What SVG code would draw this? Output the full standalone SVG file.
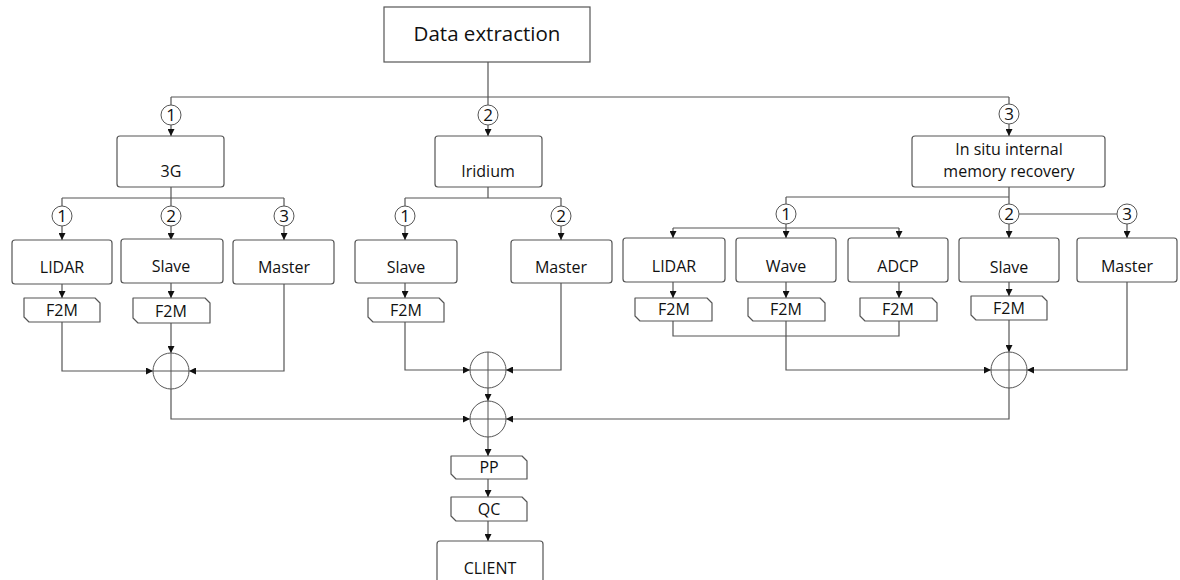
<svg xmlns="http://www.w3.org/2000/svg" width="1180" height="580" viewBox="0 0 1180 580">
<defs>
<marker id="arr" viewBox="0 0 8 8" refX="8" refY="4" markerWidth="7" markerHeight="7" markerUnits="userSpaceOnUse" orient="auto">
<path d="M0,0 L8,4 L0,8 Z" fill="#111"/>
</marker>
<style>
.box{fill:#fff;stroke:#555;stroke-width:1.2}
.tag{fill:#fff;stroke:#555;stroke-width:1.2;stroke-linejoin:round}
.num{fill:#fff;stroke:#555;stroke-width:1}
.sum{fill:none;stroke:#555;stroke-width:1}
.ln{fill:none;stroke:#555;stroke-width:1.2}
.ar{fill:none;stroke:#555;stroke-width:1.2;marker-end:url(#arr)}
.t{font-family:"Open Sans","Noto Sans",sans-serif;font-size:16px;fill:#111;text-anchor:middle}
.tn{font-family:"Open Sans","Noto Sans",sans-serif;font-size:17px;fill:#111;text-anchor:middle}
.tb{font-family:"Open Sans","Noto Sans",sans-serif;font-size:20.5px;fill:#111;text-anchor:middle}
</style>
</defs>
<rect width="1180" height="580" fill="#fff"/>

<g id="connectors">
<path class="ln" d="M488,62 V97 M171,97 H1009 M171,97 V105 M488,97 V105 M1009,97 V104"/>
<path class="ar" d="M171,125 V136"/>
<path class="ar" d="M488,125 V136"/>
<path class="ar" d="M1009,124 V136"/>
<path class="ln" d="M171,187 V198 M62,198 H284 M62,198 V206 M171,198 V206 M284,198 V206"/>
<path class="ar" d="M62,226 V240"/>
<path class="ar" d="M171,226 V240"/>
<path class="ar" d="M284,226 V240"/>
<path class="ar" d="M62,284 V298"/>
<path class="ar" d="M171,283 V298"/>
<path class="ar" d="M62,322 V371 H153"/>
<path class="ar" d="M171,323 V353"/>
<path class="ar" d="M284,284 V371 H189"/>
<path class="ar" d="M171,389 V419 H470"/>
<path class="ln" d="M488,187 V198 M405,198 H561 M405,198 V206 M561,198 V206"/>
<path class="ar" d="M405,226 V240"/>
<path class="ar" d="M561,226 V240"/>
<path class="ar" d="M405,283 V298"/>
<path class="ar" d="M405,322 V370 H470"/>
<path class="ar" d="M561,283 V370 H506"/>
<path class="ar" d="M488,388 V401"/>
<path class="ar" d="M488,437 V456"/>
<path class="ar" d="M488,479 V497"/>
<path class="ar" d="M488,521 V541"/>
<path class="ln" d="M1009,187 V197 M786,197 H1009 M786,197 V204 M1009,197 V204 M1019,214 H1117"/>
<path class="ar" d="M786,224 V238"/>
<path class="ln" d="M673,228 H899"/>
<path class="ar" d="M673,228 V238"/>
<path class="ar" d="M899,228 V238"/>
<path class="ar" d="M1009,224 V238"/>
<path class="ar" d="M1127,224 V238"/>
<path class="ar" d="M673,282 V298"/>
<path class="ar" d="M786,282 V298"/>
<path class="ar" d="M899,282 V298"/>
<path class="ar" d="M1009,282 V296"/>
<path class="ln" d="M673,321 V336 H899 V321"/>
<path class="ar" d="M786,321 V370 H991"/>
<path class="ar" d="M1009,320 V352"/>
<path class="ar" d="M1127,282 V370 H1027"/>
<path class="ar" d="M1009,388 V419 H506"/>
</g>

<g id="n-data-extraction">
<rect class="box" x="384" y="7" width="206" height="55"/>
<text class="tb" x="487" y="41">Data extraction</text>
</g>

<g id="c-top-1"><circle class="num" cx="171" cy="115" r="10"/><text class="tn" x="171" y="121">1</text></g>
<g id="c-top-2"><circle class="num" cx="488" cy="115" r="10"/><text class="tn" x="488" y="121">2</text></g>
<g id="c-top-3"><circle class="num" cx="1009" cy="114" r="10"/><text class="tn" x="1009" y="120">3</text></g>

<g id="n-3g"><rect class="box" x="117" y="136" width="107" height="51" rx="3"/><text class="t" x="171" y="177">3G</text></g>
<g id="n-iridium"><rect class="box" x="435" y="136" width="107" height="51" rx="3"/><text class="t" x="488" y="177">Iridium</text></g>
<g id="n-insitu"><rect class="box" x="912" y="136" width="193" height="51" rx="3"/><text class="t" x="1009" y="155">In situ internal</text><text class="t" x="1009" y="177">memory recovery</text></g>

<g id="c-3g-1"><circle class="num" cx="62" cy="216" r="10"/><text class="tn" x="62" y="222">1</text></g>
<g id="c-3g-2"><circle class="num" cx="171" cy="216" r="10"/><text class="tn" x="171" y="222">2</text></g>
<g id="c-3g-3"><circle class="num" cx="284" cy="216" r="10"/><text class="tn" x="284" y="222">3</text></g>
<g id="n-3g-lidar"><rect class="box" x="12" y="240" width="100" height="44" rx="3"/><text class="t" x="62" y="273">LIDAR</text></g>
<g id="n-3g-slave"><rect class="box" x="121" y="239" width="102" height="44" rx="3"/><text class="t" x="171" y="272">Slave</text></g>
<g id="n-3g-master"><rect class="box" x="233" y="240" width="101" height="44" rx="3"/><text class="t" x="284" y="273">Master</text></g>
<g id="n-3g-lidar-f2m"><path class="tag" d="M24,298 H95 L100,303 V322 H29 L24,317 Z"/><text class="t" x="62" y="316">F2M</text></g>
<g id="n-3g-slave-f2m"><path class="tag" d="M133,298 H205 L210,303 V323 H138 L133,318 Z"/><text class="t" x="171" y="317">F2M</text></g>
<g id="s-3g"><circle class="sum" cx="171" cy="371" r="18"/><path class="sum" d="M153,371 H189 M171,353 V389"/></g>

<g id="c-ir-1"><circle class="num" cx="405" cy="216" r="10"/><text class="tn" x="405" y="222">1</text></g>
<g id="c-ir-2"><circle class="num" cx="561" cy="216" r="10"/><text class="tn" x="561" y="222">2</text></g>
<g id="n-ir-slave"><rect class="box" x="355" y="240" width="102" height="43" rx="3"/><text class="t" x="406" y="273">Slave</text></g>
<g id="n-ir-master"><rect class="box" x="511" y="240" width="101" height="43" rx="3"/><text class="t" x="561" y="273">Master</text></g>
<g id="n-ir-slave-f2m"><path class="tag" d="M368,298 H439 L444,303 V322 H373 L368,317 Z"/><text class="t" x="406" y="316">F2M</text></g>
<g id="s-ir"><circle class="sum" cx="488" cy="370" r="18"/><path class="sum" d="M470,370 H506 M488,352 V388"/></g>
<g id="s-all"><circle class="sum" cx="488" cy="419" r="18"/><path class="sum" d="M470,419 H506 M488,401 V437"/></g>
<g id="n-pp"><path class="tag" d="M451,456 H522 L527,461 V479 H456 L451,474 Z"/><text class="t" x="489" y="473">PP</text></g>
<g id="n-qc"><path class="tag" d="M451,497 H522 L527,502 V521 H456 L451,516 Z"/><text class="t" x="489" y="515">QC</text></g>
<g id="n-client"><rect class="box" x="437" y="541" width="106" height="50" rx="3"/><text class="t" x="490" y="574">CLIENT</text></g>

<g id="c-is-1"><circle class="num" cx="786" cy="214" r="10"/><text class="tn" x="786" y="220">1</text></g>
<g id="c-is-2"><circle class="num" cx="1009" cy="214" r="10"/><text class="tn" x="1009" y="220">2</text></g>
<g id="c-is-3"><circle class="num" cx="1127" cy="214" r="10"/><text class="tn" x="1127" y="220">3</text></g>
<g id="n-is-lidar"><rect class="box" x="623" y="238" width="102" height="44" rx="3"/><text class="t" x="674" y="272">LIDAR</text></g>
<g id="n-is-wave"><rect class="box" x="736" y="238" width="100" height="44" rx="3"/><text class="t" x="786" y="272">Wave</text></g>
<g id="n-is-adcp"><rect class="box" x="848" y="238" width="100" height="44" rx="3"/><text class="t" x="898" y="272">ADCP</text></g>
<g id="n-is-slave"><rect class="box" x="959" y="238" width="100" height="44" rx="3"/><text class="t" x="1009" y="273">Slave</text></g>
<g id="n-is-master"><rect class="box" x="1077" y="238" width="100" height="44" rx="3"/><text class="t" x="1127" y="272">Master</text></g>
<g id="n-is-lidar-f2m"><path class="tag" d="M635,298 H707 L712,303 V321 H640 L635,316 Z"/><text class="t" x="674" y="315">F2M</text></g>
<g id="n-is-wave-f2m"><path class="tag" d="M748,298 H820 L825,303 V321 H753 L748,316 Z"/><text class="t" x="786" y="315">F2M</text></g>
<g id="n-is-adcp-f2m"><path class="tag" d="M860,298 H932 L937,303 V321 H865 L860,316 Z"/><text class="t" x="898" y="315">F2M</text></g>
<g id="n-is-slave-f2m"><path class="tag" d="M971,296 H1042 L1047,301 V320 H976 L971,315 Z"/><text class="t" x="1009" y="314">F2M</text></g>
<g id="s-is"><circle class="sum" cx="1009" cy="370" r="18"/><path class="sum" d="M991,370 H1027 M1009,352 V388"/></g>
</svg>
